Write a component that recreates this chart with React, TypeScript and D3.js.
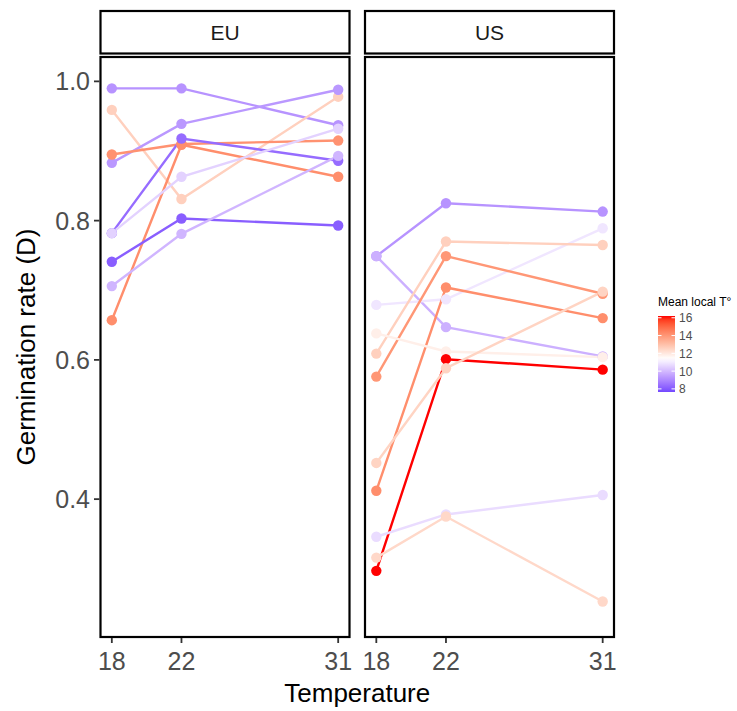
import React from "react";
import * as d3 from "d3";

// ---------- data ----------
const temperatures = [18, 22, 31];
const regions = ["EU", "US"];

// EU populations: germination rate at 18, 22, 31 °C
const euRates = [
  [0.990, 0.990, 0.937],
  [0.959, 0.831, 0.978],
  [0.883, 0.939, 0.988],
  [0.895, 0.910, 0.915],
  [0.657, 0.909, 0.863],
  [0.741, 0.803, 0.793],
  [0.782, 0.918, 0.886],
  [0.782, 0.863, 0.932],
  [0.706, 0.781, 0.893],
];
const euLocalT = [9.2, 12.6, 9.3, 14.1, 14.2, 8.1, 8.4, 10.5, 9.9];

// US populations
const usRates = [
  [0.749, 0.825, 0.813],
  [0.749, 0.647, 0.605],
  [0.679, 0.687, 0.789],
  [0.609, 0.770, 0.765],
  [0.576, 0.749, 0.695],
  [0.412, 0.704, 0.660],
  [0.638, 0.612, 0.604],
  [0.297, 0.601, 0.586],
  [0.452, 0.588, 0.698],
  [0.346, 0.378, 0.406],
  [0.316, 0.375, 0.253],
];
const usLocalT = [9.2, 9.8, 10.9, 12.6, 14.0, 14.2, 11.8, 16.2, 12.5, 10.7, 12.4];

const yTicks = [0.4, 0.6, 0.8, 1.0];
const xTicks = [18, 22, 31];
const legendBreaks = [8, 10, 12, 14, 16];

// ---------- colour scale (gradient2 in Lab) ----------
const lowCol = "blue";
const midCol = "white";
const highCol = "red";
const midpoint = 11.4;
const limits: [number, number] = [7.65, 16.2];
function colorOf(t: number): string {
  const maxd = Math.max(midpoint - limits[0], limits[1] - midpoint);
  const r = 0.5 + (t - midpoint) / (2 * maxd);
  if (r < 0.5) return d3.interpolateLab(lowCol, midCol)(Math.max(0, r * 2));
  return d3.interpolateLab(midCol, highCol)(Math.min(1, (r - 0.5) * 2));
}

// ---------- layout ----------
const W = 737;
const H = 711;
const panelTop = 57;
const panelBottom = 637;
const stripTop = 11;
const stripBottom = 53.5;
const panels = [
  { name: regions[0], x0: 100.5, x1: 349.5, rates: euRates, temps: euLocalT },
  { name: regions[1], x0: 365, x1: 614, rates: usRates, temps: usLocalT },
];
const y = d3.scaleLinear().domain([0.202, 1.035]).range([panelBottom, panelTop]);

const legend = { x: 658, w: 17, top: 316, bottom: 392 };
const ly = d3.scaleLinear().domain(limits).range([legend.bottom, legend.top]);

const FONT = "Liberation Sans, Arial, sans-serif";

export default function App() {
  const gradStops = d3.range(0, 1.0001, 0.05).map((f) => {
    const v = limits[0] + f * (limits[1] - limits[0]);
    return { off: 1 - f, col: colorOf(v) };
  });
  return (
    <svg
      width={W}
      height={H}
      style={{ position: "absolute", left: 0, top: 0, background: "white" }}
      fontFamily={FONT}
    >
      <defs>
        <linearGradient id="lg" x1="0" y1="0" x2="0" y2="1">
          {gradStops
            .slice()
            .sort((a, b) => a.off - b.off)
            .map((s, i) => (
              <stop key={i} offset={s.off} stopColor={s.col} />
            ))}
        </linearGradient>
      </defs>
      <rect x={0} y={0} width={W} height={H} fill="white" />

      {panels.map((p) => {
        const x = d3.scaleLinear().domain([17.35, 31.65]).range([p.x0, p.x1]);
        const line = d3
          .line<number>()
          .x((_, i) => x(temperatures[i]))
          .y((d) => y(d));
        return (
          <g key={p.name}>
            {/* strip */}
            <rect
              x={p.x0}
              y={stripTop}
              width={p.x1 - p.x0}
              height={stripBottom - stripTop}
              fill="white"
              stroke="black"
              strokeWidth={2.2}
            />
            <text
              x={(p.x0 + p.x1) / 2}
              y={(stripTop + stripBottom) / 2 + 7.5}
              textAnchor="middle"
              fontSize={21}
              fill="#1a1a1a"
            >
              {p.name}
            </text>
            {/* lines */}
            {p.rates.map((r, i) => (
              <path
                key={"l" + i}
                d={line(r) || ""}
                fill="none"
                stroke={colorOf(p.temps[i])}
                strokeWidth={2.4}
              />
            ))}
            {/* points */}
            {p.rates.map((r, i) =>
              r.map((v, j) => (
                <circle
                  key={"p" + i + "-" + j}
                  cx={x(temperatures[j])}
                  cy={y(v)}
                  r={5.2}
                  fill={colorOf(p.temps[i])}
                />
              ))
            )}
            {/* border */}
            <rect
              x={p.x0}
              y={panelTop}
              width={p.x1 - p.x0}
              height={panelBottom - panelTop}
              fill="none"
              stroke="black"
              strokeWidth={2.2}
            />
            {/* x ticks */}
            {xTicks.map((t) => (
              <g key={"xt" + t}>
                <line
                  x1={x(t)}
                  x2={x(t)}
                  y1={panelBottom + 1}
                  y2={panelBottom + 6}
                  stroke="#333"
                  strokeWidth={1.8}
                />
                <text
                  x={x(t)}
                  y={panelBottom + 33}
                  textAnchor="middle"
                  fontSize={25}
                  fill="#4d4d4d"
                >
                  {t}
                </text>
              </g>
            ))}
          </g>
        );
      })}

      {/* y axis */}
      {yTicks.map((t) => (
        <g key={"yt" + t}>
          <line
            x1={94}
            x2={99.5}
            y1={y(t)}
            y2={y(t)}
            stroke="#333"
            strokeWidth={1.8}
          />
          <text
            x={90}
            y={y(t) + 9}
            textAnchor="end"
            fontSize={25}
            fill="#4d4d4d"
          >
            {t.toFixed(1)}
          </text>
        </g>
      ))}

      <text
        transform={`translate(${35},${(panelTop + panelBottom) / 2}) rotate(-90)`}
        textAnchor="middle"
        fontSize={26}
        fill="black"
      >
        Germination rate (D)
      </text>
      <text
        x={(panels[0].x0 + panels[1].x1) / 2}
        y={702}
        textAnchor="middle"
        fontSize={26}
        fill="black"
      >
        Temperature
      </text>

      {/* legend */}
      <text x={legend.x} y={306} fontSize={12} fill="black">
        Mean local T°
      </text>
      <rect
        x={legend.x}
        y={legend.top}
        width={legend.w}
        height={legend.bottom - legend.top}
        fill="url(#lg)"
      />
      {legendBreaks.map((b) => (
        <g key={"lb" + b}>
          <line
            x1={legend.x}
            x2={legend.x + 3.5}
            y1={ly(b)}
            y2={ly(b)}
            stroke="white"
            strokeWidth={1}
          />
          <line
            x1={legend.x + legend.w - 3.5}
            x2={legend.x + legend.w}
            y1={ly(b)}
            y2={ly(b)}
            stroke="white"
            strokeWidth={1}
          />
          <text x={legend.x + 21} y={ly(b) + 4.5} fontSize={12} fill="#4d4d4d">
            {b}
          </text>
        </g>
      ))}
    </svg>
  );
}
